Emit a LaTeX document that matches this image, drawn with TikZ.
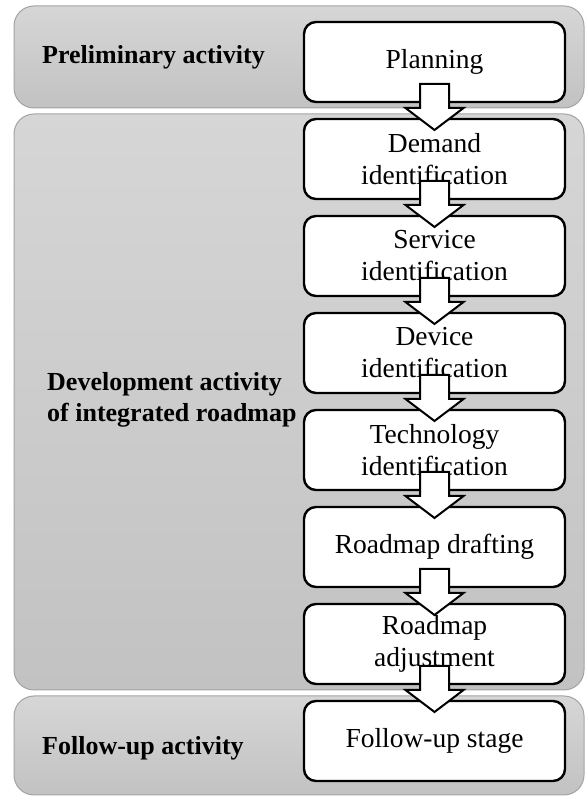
\documentclass[tikz,border=0pt]{standalone}
\usepackage{fontspec}
\setmainfont{Liberation Serif}
\usepackage{tikz}
\usetikzlibrary{positioning,calc}
\definecolor{panelborder}{HTML}{A3A3A3}
\definecolor{paneltop}{HTML}{D6D6D6}
\definecolor{panelbottom}{HTML}{C2C2C2}

% block arrow from the bottom of one stage box into the next
\newcommand{\stagearrow}[2]{%
  \draw[flowarrow] ($(#1.south)+(-14.5,18)$) -- ($(#1.south)+(14.5,18)$)
    -- ($(#1.south)+(14.5,-6)$) -- ($(#1.south)+(29,-6)$)
    -- ($(#2.north)+(0,-11)$)
    -- ($(#1.south)+(-29,-6)$) -- ($(#1.south)+(-14.5,-6)$) -- cycle;}

\begin{document}
\begin{tikzpicture}[
  x=1pt, y=1pt,
  panel/.style={rectangle, draw=panelborder, line width=1pt, rounded corners=20pt, top color=paneltop, bottom color=panelbottom, minimum width=570pt, inner sep=0pt},
  stagebox/.style={rectangle, draw=black, line width=2.4pt, rounded corners=12pt, fill=white, minimum width=261pt, minimum height=80pt, align=center, inner sep=2pt, outer sep=0pt, font=\fontsize{27.5}{32}\selectfont},
  phase/.style={font=\fontsize{26}{31}\selectfont\bfseries, align=left, anchor=west, inner sep=0pt},
  flowarrow/.style={draw=black, line width=2pt, fill=white, line join=miter}
]
\useasboundingbox (0,0) rectangle (586,798);

% phases
\node[panel, minimum height=102pt] (prelim) at (299,741) {};
\node[panel, minimum height=576pt] (develop) at (299,396) {};
\node[panel, minimum height=99pt] (follow) at (299,52.5) {};

\node[phase] (prelimlabel) at (42,741) {Preliminary activity};
\node[phase] (developlabel) at (47,398) {Development activity\\of integrated roadmap};
\node[phase] (followlabel) at (42,50) {Follow-up activity};

% stages
\node[stagebox] (planning) at (434.5,736) {Planning};
\node[stagebox, below=17pt of planning] (demand) {Demand\\identification};
\node[stagebox, below=17pt of demand] (service) {Service\\identification};
\node[stagebox, below=17pt of service] (device) {Device\\identification};
\node[stagebox, below=17pt of device] (technology) {Technology\\identification};
\node[stagebox, below=17pt of technology] (drafting) {Roadmap drafting};
\node[stagebox, below=17pt of drafting] (adjustment) {Roadmap\\adjustment};
\node[stagebox, below=17pt of adjustment] (followup) {Follow-up stage};

\stagearrow{planning}{demand}
\stagearrow{demand}{service}
\stagearrow{service}{device}
\stagearrow{device}{technology}
\stagearrow{technology}{drafting}
\stagearrow{drafting}{adjustment}
\stagearrow{adjustment}{followup}
\end{tikzpicture}
\end{document}
